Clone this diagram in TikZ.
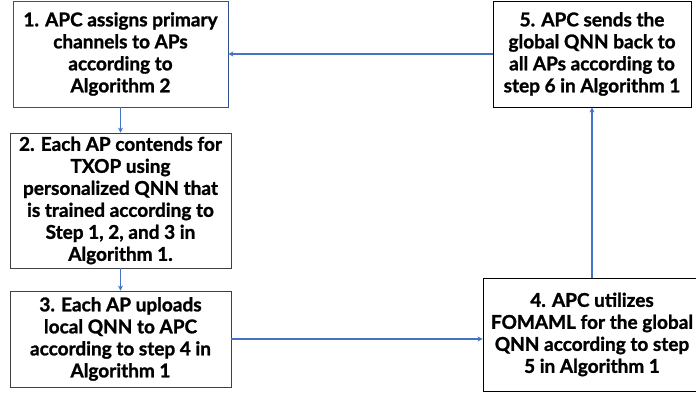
\documentclass[tikz,border=0pt]{standalone}
\usepackage{fontspec}
\setmainfont{Lato}[BoldFeatures={FakeBold=1.3}]
\usetikzlibrary{arrows.meta}

\begin{document}
\begin{tikzpicture}[x=1pt, y=-1pt,
    stepbox/.style={draw=black, line width=0.8pt, align=center, inner sep=0pt,
        font=\fontsize{19}{22}\selectfont\bfseries},
    flow/.style={draw={rgb,255:red,68;green,114;blue,196}, line width=1.5pt,
        -{Stealth[length=5pt, width=5pt]}}
]
    % Рамка рисунка
    \useasboundingbox (0,0) rectangle (696,403);

    % Шаги алгоритма
    \node[stepbox, draw={rgb,255:red,47;green,82;blue,143}, minimum width=215pt, minimum height=106pt]
        (assign) at (120.5,54) {1. APC assigns primary\\channels to APs\\according to\\Algorithm 2};
    \node[stepbox, draw={rgb,255:red,64;green,64;blue,64}, minimum width=221pt, minimum height=135pt]
        (contend) at (120.5,200.5) {2. Each AP contends for\\TXOP using\\personalized QNN that\\is trained according to\\Step 1, 2, and 3 in\\Algorithm 1.};
    \node[stepbox, draw={rgb,255:red,64;green,64;blue,64}, minimum width=221pt, minimum height=96pt]
        (upload) at (120.5,339) {3. Each AP uploads\\local QNN to APC\\according to step 4 in\\Algorithm 1};
    \node[stepbox, minimum width=218pt, minimum height=113pt]
        (utilize) at (592,334.5) {4. APC utilizes\\FOMAML for the global\\QNN according to step\\5 in Algorithm 1};
    \node[stepbox, minimum width=198pt, minimum height=106pt]
        (sendback) at (592,54) {5. APC sends the\\global QNN back to\\all APs according to\\step 6 in Algorithm 1};

    % Стрелки
    \draw[flow] (assign) -- (contend);
    \draw[flow] (contend) -- (upload);
    \draw[flow] (upload.east) -- (upload.east -| utilize.west);
    \draw[flow] (utilize) -- (sendback);
    \draw[flow] (sendback) -- (assign);

\end{tikzpicture}
\end{document}
